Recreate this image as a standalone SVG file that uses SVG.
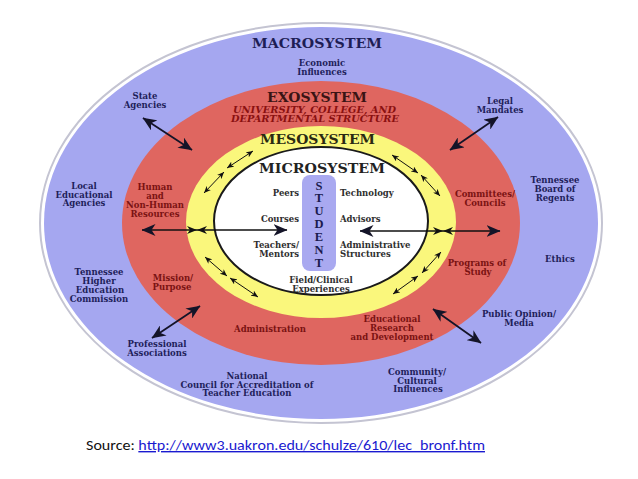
<svg xmlns="http://www.w3.org/2000/svg" width="638" height="479" viewBox="0 0 638 479">
<defs>
<style>
.lbl{font-family:"DejaVu Serif","Liberation Serif",serif;font-weight:bold;font-size:8.5px;text-anchor:middle}
.blue{fill:#1e1e5a}
.red{fill:#7a1212}
.dark{fill:#2e2e2e}
.st{text-anchor:start}
.en{text-anchor:end}
.title{font-family:"DejaVu Serif","Liberation Serif",serif;font-weight:bold;font-size:13px;text-anchor:middle}
.it{font-style:italic;font-size:8.3px;fill:#8a1010}
.stu{font-family:"Liberation Serif","DejaVu Serif",serif;font-weight:bold;font-size:12.5px;text-anchor:middle;fill:#1a1a4e}
.big{stroke:#141428;stroke-width:1.8;fill:none}
.hz{stroke:#111;stroke-width:1.3;fill:none}
.sm{stroke:#111;stroke-width:1;fill:none}
</style>
<marker id="mBig" markerUnits="userSpaceOnUse" viewBox="0 0 14 12" markerWidth="14" markerHeight="12" refX="13.5" refY="6" orient="auto-start-reverse"><path d="M0,0 L14,6 L0,12 L4,6 Z" fill="#141428"/></marker>
<marker id="mMid" markerUnits="userSpaceOnUse" viewBox="0 0 10 8" markerWidth="10" markerHeight="8" refX="10" refY="4" orient="auto-start-reverse"><path d="M0,0 L10,4 L0,8 L3,4 Z" fill="#111"/></marker>
<marker id="mSm" markerUnits="userSpaceOnUse" viewBox="0 0 7 6" markerWidth="7" markerHeight="6" refX="7" refY="3" orient="auto-start-reverse"><path d="M0,0 L7,3 L0,6 L2,3 Z" fill="#111"/></marker>
</defs>
<rect width="638" height="479" fill="#ffffff"/>

<g id="macrosystem">
<ellipse cx="321" cy="223" rx="281" ry="200" fill="none" stroke="#c4c4d2" stroke-width="2"/>
<ellipse cx="321" cy="223" rx="277" ry="196" fill="#a5a7f0"/>
<text class="title" x="317" y="48" textLength="130" lengthAdjust="spacingAndGlyphs" fill="#1e1e55">MACROSYSTEM</text>
</g>
<g id="exosystem">
<ellipse cx="321" cy="223" rx="199" ry="142" fill="#df6660"/>
<text class="title" x="317" y="102" textLength="100" lengthAdjust="spacingAndGlyphs" fill="#3a1414">EXOSYSTEM</text>
<text class="lbl it" x="314.5" y="113" textLength="163" lengthAdjust="spacingAndGlyphs">UNIVERSITY, COLLEGE, AND</text>
<text class="lbl it" x="315" y="122" textLength="168" lengthAdjust="spacingAndGlyphs">DEPARTMENTAL STRUCTURE</text>
</g>
<g id="mesosystem">
<ellipse cx="321" cy="222" rx="135" ry="96" fill="#faf77c"/>
<text class="title" x="317.5" y="144" textLength="115" lengthAdjust="spacingAndGlyphs" fill="#2a2a12">MESOSYSTEM</text>
</g>
<g id="microsystem">
<ellipse cx="321" cy="221" rx="107" ry="74" fill="#ffffff" stroke="#1a1a1a" stroke-width="2"/>
<text class="title" x="322" y="172.5" textLength="126" lengthAdjust="spacingAndGlyphs" fill="#222">MICROSYSTEM</text>
</g>
<g id="student">
<rect x="302" y="175" width="34" height="96" rx="8" fill="#a9a9f0"/>
<text class="stu" x="319" y="189.5">S</text>
<text class="stu" x="319" y="202.3">T</text>
<text class="stu" x="319" y="215.2">U</text>
<text class="stu" x="319" y="228">D</text>
<text class="stu" x="319" y="240.8">E</text>
<text class="stu" x="319" y="253.7">N</text>
<text class="stu" x="319" y="266.5">T</text>
</g>

<g id="macro-labels" class="lbl blue">
<text x="322" y="66">Economic</text><text x="322" y="75">Influences</text>
<text x="145" y="99">State</text><text x="145" y="108">Agencies</text>
<text x="500" y="104">Legal</text><text x="500" y="112.5">Mandates</text>
<text x="84" y="189">Local</text><text x="84" y="197.5">Educational</text><text x="84" y="206">Agencies</text>
<text x="555" y="183">Tennessee</text><text x="555" y="192">Board of</text><text x="555" y="201">Regents</text>
<text x="560" y="262">Ethics</text>
<text x="519" y="317">Public Opinion/</text><text x="519" y="326">Media</text>
<text x="417" y="375">Community/</text><text x="417" y="383.5">Cultural</text><text x="418" y="392">Influences</text>
<text x="99" y="275">Tennessee</text><text x="99" y="284">Higher</text><text x="100" y="292.5">Education</text><text x="99" y="301.5">Commission</text>
<text x="157" y="347">Professional</text><text x="157" y="356">Associations</text>
<text x="247" y="379">National</text><text x="247" y="387.5">Council for Accreditation of</text><text x="247" y="396">Teacher Education</text>
</g>
<g id="exo-labels" class="lbl red">
<text x="155" y="190">Human</text><text x="155" y="199">and</text><text x="155" y="208">Non-Human</text><text x="155" y="217">Resources</text>
<text x="485" y="197">Committees/</text><text x="485" y="206">Councils</text>
<text x="477" y="266">Programs of</text><text x="478" y="274.5">Study</text>
<text x="392" y="322">Educational</text><text x="392" y="331">Research</text><text x="392" y="340">and Development</text>
<text x="173" y="281">Mission/</text><text x="172" y="289.5">Purpose</text>
<text x="270" y="332">Administration</text>
</g>
<g id="micro-labels" class="lbl dark">
<text class="en" x="299" y="196">Peers</text>
<text class="st" x="340" y="196">Technology</text>
<text class="en" x="299" y="222">Courses</text>
<text class="st" x="340" y="222">Advisors</text>
<text class="en" x="299" y="248">Teachers/</text><text class="en" x="299" y="257">Mentors</text>
<text class="st" x="340" y="248">Administrative</text><text class="st" x="340" y="257">Structures</text>
<text x="321" y="283">Field/Clinical</text><text x="321" y="292">Experiences</text>
</g>

<g id="connectors">
<line class="big" x1="143" y1="118" x2="192" y2="150" marker-start="url(#mBig)" marker-end="url(#mBig)"/>
<line class="big" x1="450" y1="150" x2="498" y2="117" marker-start="url(#mBig)" marker-end="url(#mBig)"/>
<line class="big" x1="152" y1="338" x2="200" y2="306" marker-start="url(#mBig)" marker-end="url(#mBig)"/>
<line class="big" x1="433" y1="309" x2="481" y2="343" marker-start="url(#mBig)" marker-end="url(#mBig)"/>
<line class="hz" x1="142" y1="230" x2="197" y2="230" marker-start="url(#mBig)" marker-end="url(#mMid)"/>
<line class="hz" x1="197" y1="230" x2="287" y2="230" marker-start="url(#mMid)" marker-end="url(#mBig)"/>
<line class="hz" x1="360" y1="231" x2="443" y2="231" marker-start="url(#mBig)" marker-end="url(#mMid)"/>
<line class="hz" x1="443" y1="231" x2="500" y2="231" marker-start="url(#mMid)" marker-end="url(#mBig)"/>
<line class="sm" x1="204" y1="193" x2="224" y2="172" marker-start="url(#mSm)" marker-end="url(#mSm)"/>
<line class="sm" x1="227" y1="168" x2="253" y2="151" marker-start="url(#mSm)" marker-end="url(#mSm)"/>
<line class="sm" x1="392" y1="155" x2="418" y2="173" marker-start="url(#mSm)" marker-end="url(#mSm)"/>
<line class="sm" x1="421" y1="175" x2="440" y2="196" marker-start="url(#mSm)" marker-end="url(#mSm)"/>
<line class="sm" x1="205" y1="257" x2="227" y2="276" marker-start="url(#mSm)" marker-end="url(#mSm)"/>
<line class="sm" x1="230" y1="278" x2="258" y2="297" marker-start="url(#mSm)" marker-end="url(#mSm)"/>
<line class="sm" x1="441" y1="252" x2="422" y2="273" marker-start="url(#mSm)" marker-end="url(#mSm)"/>
<line class="sm" x1="418" y1="276" x2="393" y2="294" marker-start="url(#mSm)" marker-end="url(#mSm)"/>
</g>

<g id="source">
<text x="86" y="450" font-family="Carlito, 'Open Sans', 'Liberation Sans', sans-serif" font-size="14" fill="#111" textLength="399" lengthAdjust="spacingAndGlyphs">Source: <tspan fill="#1a1ad0" text-decoration="underline">http://www3.uakron.edu/schulze/610/lec_bronf.htm</tspan></text>
</g>
</svg>
